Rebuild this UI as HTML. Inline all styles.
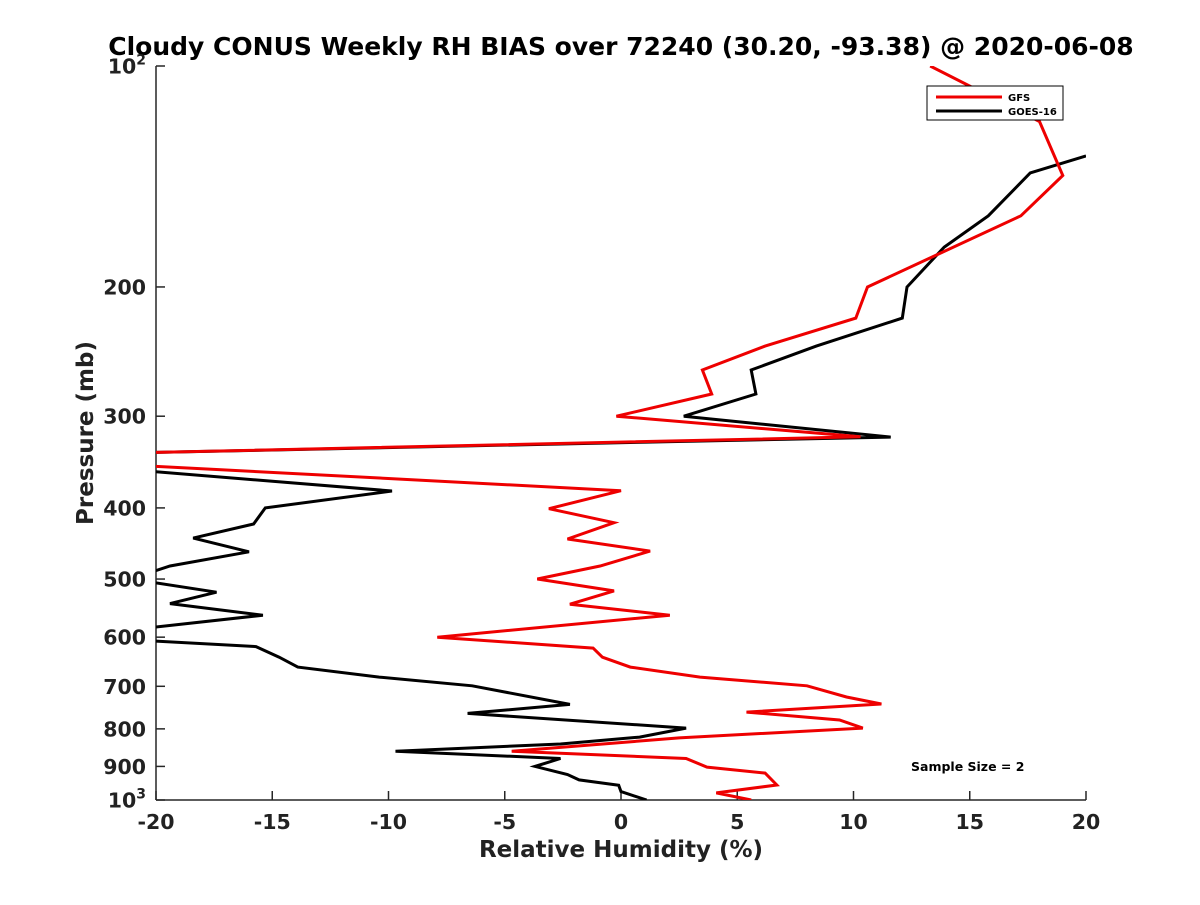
<!DOCTYPE html>
<html><head><meta charset="utf-8"><style>
body{margin:0;background:#fff;}
svg text{font-family:"DejaVu Sans","Liberation Sans",sans-serif;font-weight:bold;fill:#222;}
</style></head><body>
<svg id="chart" width="1200" height="900" viewBox="0 0 1200 900" xmlns="http://www.w3.org/2000/svg">
<rect width="1200" height="900" fill="#fff"/>
<defs><clipPath id="plotclip"><rect x="156" y="66" width="930" height="734"/></clipPath></defs>
<text x="621" y="55" font-size="25" text-anchor="middle" style="fill:#000">Cloudy CONUS Weekly RH BIAS over 72240 (30.20, -93.38) @ 2020-06-08</text>
<g id="axes"></g>
<g id="series" clip-path="url(#plotclip)"></g>
<text x="621" y="857" font-size="23" text-anchor="middle">Relative Humidity (%)</text>
<text transform="translate(93,433) rotate(-90)" font-size="23" text-anchor="middle">Pressure (mb)</text>
<g>
<rect x="927" y="86" width="136" height="34" fill="#fff" stroke="#000" stroke-width="1"/>
<line x1="936" y1="97" x2="1002" y2="97" stroke="#e00" stroke-width="3"/>
<text x="1008" y="101" font-size="10" style="fill:#000">GFS</text>
<line x1="936" y1="111" x2="1002" y2="111" stroke="#000" stroke-width="3"/>
<text x="1008" y="115" font-size="10" style="fill:#000">GOES-16</text>
</g>
<text x="911" y="771" font-size="12.5" style="fill:#000">Sample Size = 2</text>
</svg>
<script>
const xTicks=[-20,-15,-10,-5,0,5,10,15,20];
const yTicks=[100,200,300,400,500,600,700,800,900,1000];
const gfsP=[100,119,141,160,200,220.5,240.8,259.5,279.8,300,320,336.6,349.7,379,401,419,441,458,480,500,519,541,560,600,621,639,659,680,699,724,740,759,778,798,823,858,878,902,919,954,978,1000];
const gfsV=[13.3,18.0,19.0,17.2,10.6,10.1,6.2,3.5,3.9,-0.2,10.3,-21,-21,0.0,-3.1,-0.3,-2.3,1.25,-0.9,-3.6,-0.3,-2.2,2.1,-7.9,-1.2,-0.8,0.4,3.4,8.0,9.7,11.2,5.4,9.4,10.4,2.5,-4.7,2.8,3.7,6.2,6.7,4.1,5.6];
const goesP=[132.6,139.9,160,176.5,200,220.5,240.8,259.5,279.8,300,320.3,336.6,355,379.3,400,420.7,439.7,459,480,489,505,521,540,560,582,607,618,639,659,680,699,741,762,798,821,839,858,878,900,923,939,955,974,1000];
const goesV=[20.0,17.6,15.8,13.9,12.3,12.1,8.4,5.6,5.8,2.7,11.6,-21,-21,-9.85,-15.3,-15.8,-18.4,-16.0,-19.4,-20.2,-20.2,-17.4,-19.4,-15.4,-20.2,-20.2,-15.7,-14.7,-13.9,-10.4,-6.4,-2.2,-6.6,2.8,0.8,-2.6,-9.7,-2.6,-3.7,-2.3,-1.8,-0.1,0.0,1.1];
const NS='http://www.w3.org/2000/svg';
function xs(v){return 156+(v+20)/40*930;}
function ys(p){return 66+Math.log10(p/100)*734;}
const axes=document.getElementById('axes');
function mk(tag,attrs,parent){const e=document.createElementNS(NS,tag);for(const k in attrs)e.setAttribute(k,attrs[k]);parent.appendChild(e);return e;}
const xl=mk('line',{x1:156,y1:800,x2:1086,y2:800,stroke:'#262626','stroke-width':1.5},axes);


const yl=mk('line',{x1:156,y1:66,x2:156,y2:800,stroke:'#262626','stroke-width':1.5},axes);


xTicks.forEach(v=>{
  mk('line',{x1:xs(v),y1:800,x2:xs(v),y2:791,stroke:'#262626','stroke-width':1.5},axes);
  const t=mk('text',{x:xs(v),y:829,'font-size':20.5,'text-anchor':'middle'},axes);
  t.textContent=String(v);
  
  
});
yTicks.forEach(p=>{
  mk('line',{x1:156,y1:ys(p),x2:165,y2:ys(p),stroke:'#262626','stroke-width':1.5},axes);
  const t=mk('text',{x:146,y:ys(p)+7.5,'font-size':20.5,'text-anchor':'end'},axes);
  if(p===100){t.innerHTML='10<tspan dy="-9" font-size="14">2</tspan>';}
  else if(p===1000){t.innerHTML='10<tspan dy="-9" font-size="14">3</tspan>';}
  else t.textContent=String(p);
  
  
});
const ser=document.getElementById('series');
function draw(P,V,color,name){
  const d=P.map((p,i)=>(i?'L':'M')+xs(V[i]).toFixed(1)+','+ys(p).toFixed(1)).join(' ');
  const e=mk('path',{d:d,fill:'none',stroke:color,'stroke-width':3,'stroke-linejoin':'miter'},ser);
  
  
}
draw(goesP,goesV,'#000','goes16-line');
draw(gfsP,gfsV,'#e00','gfs-line');
</script>
</body></html>
